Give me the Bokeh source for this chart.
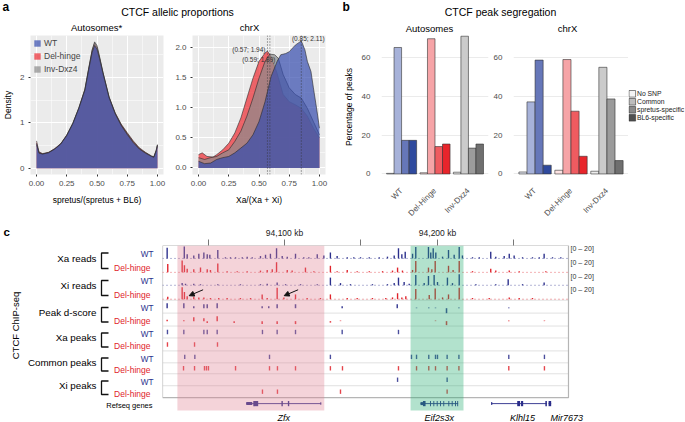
import math
from bokeh.plotting import figure
from bokeh.models import (Range1d, FixedTicker, Legend, LegendItem, ColumnDataSource,
                          Arrow, NormalHead, NumeralTickFormatter, Span)
from bokeh.layouts import column, row
from bokeh.embed import file_html
from bokeh.resources import INLINE
from bokeh.core.properties import value

FONT = "Liberation Sans"

# ------------------------------------------------------------------ panel a data
series_names = ["WT", "Del-hinge", "Inv-Dxz4"]
auto_x   = [0.00, 0.02, 0.05, 0.10, 0.15, 0.20, 0.25, 0.30, 0.35, 0.40, 0.43, 0.46, 0.48, 0.50,
            0.52, 0.55, 0.60, 0.65, 0.70, 0.75, 0.80, 0.85, 0.90, 0.95, 0.97, 0.99, 1.00]
auto_wt  = [0.55, 0.33, 0.31, 0.34, 0.42, 0.53, 0.72, 0.98, 1.32, 1.72, 2.15, 2.55, 2.70, 2.62,
            2.42, 2.08, 1.55, 1.20, 0.94, 0.74, 0.56, 0.42, 0.33, 0.26, 0.24, 0.38, 0.50]
auto_del = [0.60, 0.36, 0.32, 0.35, 0.43, 0.54, 0.73, 0.99, 1.33, 1.74, 2.18, 2.60, 2.75, 2.66,
            2.45, 2.10, 1.57, 1.22, 0.97, 0.78, 0.60, 0.45, 0.35, 0.27, 0.25, 0.40, 0.52]
auto_inv = [0.52, 0.34, 0.31, 0.34, 0.42, 0.53, 0.72, 0.98, 1.32, 1.73, 2.17, 2.60, 2.78, 2.70,
            2.47, 2.10, 1.56, 1.21, 0.95, 0.76, 0.58, 0.43, 0.34, 0.26, 0.24, 0.39, 0.51]

chrx_wt_x  = [0.00, 0.05, 0.10, 0.15, 0.20, 0.25, 0.30, 0.35, 0.40, 0.45, 0.50, 0.55, 0.60, 0.65,
              0.68, 0.72, 0.75, 0.80, 0.85, 0.88, 0.90, 0.93, 0.95, 0.98, 1.00]
chrx_wt_y  = [0.11, 0.07, 0.08, 0.14, 0.17, 0.19, 0.25, 0.33, 0.41, 0.55, 0.77, 1.10, 1.52, 1.77,
              1.88, 1.90, 1.93, 2.04, 2.11, 1.96, 1.77, 1.60, 1.33, 0.94, 0.66]
chrx_del_x = [0.00, 0.03, 0.07, 0.12, 0.15, 0.20, 0.25, 0.30, 0.35, 0.40, 0.45, 0.50, 0.55, 0.57,
              0.60, 0.65, 0.70, 0.75, 0.80, 0.85, 0.90, 0.95, 1.00]
chrx_del_y = [0.22, 0.25, 0.19, 0.18, 0.22, 0.30, 0.41, 0.58, 0.83, 1.16, 1.49, 1.77, 1.91, 1.94,
              1.85, 1.57, 1.22, 1.10, 1.05, 0.99, 0.86, 0.66, 0.50]
chrx_inv_x = [0.00, 0.05, 0.10, 0.15, 0.20, 0.25, 0.30, 0.35, 0.40, 0.45, 0.50, 0.55, 0.59, 0.63,
              0.66, 0.70, 0.75, 0.80, 0.85, 0.90, 0.95, 1.00]
chrx_inv_y = [0.17, 0.14, 0.17, 0.19, 0.25, 0.30, 0.44, 0.61, 0.86, 1.16, 1.49, 1.77, 1.89, 1.88,
              1.82, 1.55, 1.33, 1.22, 1.16, 0.99, 0.77, 0.55]

mode_x = [0.85, 0.57, 0.59]
mode_y = [2.11, 1.94, 1.89]

dens_x_ticks = [0.0, 0.25, 0.5, 0.75, 1.0]
dens_x_minor = [0.125, 0.375, 0.625, 0.875]
auto_y_ticks = [0, 1, 2]
auto_y_minor = [0.5, 1.5, 2.5]
chrx_y_ticks = [0.0, 0.5, 1.0, 1.5, 2.0]
chrx_y_minor = [0.25, 0.75, 1.25, 1.75]

dens_fill = {"WT": "#344cae", "Del-hinge": "#ec2a30", "Inv-Dxz4": "#8b8b8b"}

# ------------------------------------------------------------------ panel b data
groups = ["WT", "Del-Hinge", "Inv-Dxz4"]
snp_classes = ["No SNP", "Common", "spretus-specific", "BL6-specific"]
auto_pct_wt  = [0.3, 65.1, 17.3, 17.3]
auto_pct_del = [0.6, 69.6, 14.1, 15.4]
auto_pct_inv = [0.9, 70.9, 13.3, 15.4]
chrx_pct_wt  = [1.0, 37.1, 58.6, 4.5]
chrx_pct_del = [1.9, 58.9, 32.3, 9.1]
chrx_pct_inv = [1.4, 54.9, 38.6, 6.9]
bar_y_ticks = [0, 20, 40, 60]
bar_colors = {
    "WT":        ["#e6e9f3", "#a7b2d9", "#6677b9", "#2f4a9e"],
    "Del-Hinge": ["#fde3e3", "#f6a4a7", "#ef5b60", "#e8252b"],
    "Inv-Dxz4":  ["#eeeeee", "#cbcbcb", "#9b9b9b", "#6f6f6f"],
}
legend_grays = ["#f4f4f4", "#bdbdbd", "#8a8a8a", "#505050"]

# ------------------------------------------------------------------ panel c data (kb)
view_start, view_end = 94020.26, 94285.62
canvas_end = 94362.1          # right edge of the page, in kb, for the "[0 - 20]" labels
axis_ticks_kb = [94050, 94100, 94150, 94200, 94250]
axis_tick_labels = {94100: "94,100 kb", 94200: "94,200 kb"}
highlight_start = [94030.0, 94182.4]
highlight_end = [94126.0, 94217.0]
highlight_color = ["#e08192", "#23ac70"]

xa_wt_pos = [94023.3, 94034.5, 94036.4, 94040.7, 94044.0, 94047.3, 94049.5, 94051.2, 94056.4, 94061.4,
             94064.7, 94068.0, 94072.4, 94075.6, 94078.9, 94084.3, 94087.6, 94090.8, 94094.8, 94098.5,
             94101.8, 94107.2, 94112.6, 94115.9, 94121.4, 94125.7, 94130.0, 94134.4, 94141.0, 94145.3,
             94149.7, 94155.4, 94161.9, 94167.3, 94171.7, 94174.5, 94176.7, 94178.9, 94183.7, 94185.8,
             94194.1, 94195.6, 94197.2, 94198.9, 94203.3, 94207.2, 94210.9, 94214.2, 94216.3, 94222.9,
             94227.3, 94234.8, 94238.1, 94243.6, 94246.9, 94250.1, 94255.6, 94262.1, 94266.5, 94269.7,
             94275.2, 94280.6]
xa_wt_h = [18, 20, 7, 5, 8, 10, 7, 6, 14, 2, 2, 2, 2, 3, 2, 4, 6, 8, 17, 4, 3, 8, 2, 2, 7, 5, 10, 4,
           2, 2, 2, 2, 2, 3, 5, 17, 7, 11, 8, 19, 19, 10, 17, 10, 3, 14, 6, 19, 5, 2, 2, 11, 3, 4, 8,
           5, 2, 2, 2, 8, 2, 2]
xa_del_pos = [94023.7, 94033.1, 94034.6, 94036.4, 94040.7, 94045.1, 94049.5, 94051.6, 94056.4, 94062.5,
              94069.1, 94075.6, 94084.3, 94088.7, 94092.0, 94094.8, 94101.8, 94105.0, 94113.7, 94119.2,
              94130.0, 94134.4, 94141.0, 94147.5, 94155.4, 94164.1, 94170.6, 94173.9, 94177.1, 94183.7,
              94185.8, 94194.1, 94196.3, 94198.5, 94207.2, 94210.2, 94214.2, 94222.9, 94234.8, 94238.1,
              94246.9, 94253.4, 94270.8]
xa_del_h = [14, 20, 12, 6, 5, 8, 5, 4, 15, 2, 2, 2, 3, 4, 5, 17, 4, 3, 8, 2, 11, 2, 4, 2, 2, 2, 3, 8,
            3, 4, 19, 8, 5, 19, 11, 4, 19, 2, 6, 3, 3, 2, 2]
xi_wt_pos = [94033.1, 94035.3, 94040.7, 94045.1, 94056.4, 94071.2, 94084.3, 94088.7, 94095.2, 94100.7,
             94110.5, 94121.4, 94130.0, 94136.6, 94143.1, 94157.5, 94167.3, 94171.7, 94174.5, 94178.2,
             94181.5, 94185.8, 94191.3, 94194.1, 94197.8, 94200.0, 94206.5, 94209.8, 94214.2, 94225.1,
             94238.1, 94246.2, 94255.6, 94269.7]
xi_wt_h = [4, 3, 3, 2, 2, 2, 2, 3, 5, 2, 2, 2, 14, 4, 2, 2, 2, 4, 14, 6, 3, 19, 4, 17, 19, 6, 14, 4,
           20, 2, 2, 11, 2, 5]
xi_del_pos = [94023.7, 94033.1, 94034.6, 94036.4, 94040.7, 94044.0, 94047.3, 94051.6, 94057.0, 94062.5,
              94071.2, 94077.8, 94085.4, 94088.7, 94095.2, 94099.6, 94107.2, 94114.8, 94123.5, 94130.0,
              94141.0, 94147.5, 94157.5, 94166.2, 94170.6, 94173.9, 94176.7, 94179.3, 94185.8, 94194.6,
              94198.5, 94203.3, 94207.2, 94214.2, 94222.9, 94233.8, 94246.9, 94253.4, 94262.1]
xi_del_h = [4, 20, 12, 5, 4, 3, 3, 2, 2, 2, 2, 2, 8, 2, 19, 3, 8, 2, 2, 8, 2, 2, 2, 2, 3, 10, 3, 5,
            17, 7, 18, 3, 8, 19, 2, 2, 3, 2, 2]
arrow_targets = [94033.1, 94095.2]

dscore_wt_pos = [94023.3, 94034.2, 94040.7, 94047.3, 94049.5, 94056.0, 94085.4, 94089.7, 94095.2,
                 94107.2, 94137.7, 94173.7, 94186.3, 94194.3, 94198.7, 94205.9, 94214.0, 94246.6]
dscore_wt_val = [5, 5, 2, 4, 4, 5, 2, 2, 4, 4, 2, 4, 0.6, 0.6, 0.6, -5, 0.6, 0.6]
dscore_del_pos = [94023.3, 94034.2, 94040.7, 94047.3, 94049.5, 94056.0, 94067.1, 94085.4, 94095.2,
                  94107.2, 94130.0, 94136.6, 94198.7, 94205.9, 94246.6, 94269.9]
dscore_del_val = [1.5, 1.0, 4, 3, -2, 5, -2, -3, -3, -3, -1.5, 0.6, 0.6, -4, 0.6, 0.6]

xa_peaks_wt = [94023.5, 94034.2, 94047.3, 94049.5, 94056.0, 94085.6, 94095.2, 94107.2, 94137.7, 94174.5]
xa_peaks_del = [94023.5, 94041.2, 94056.2]
common_peaks_wt = [94034.8, 94041.4, 94090.2, 94130.0, 94183.0, 94186.3, 94194.3, 94198.7, 94200.0,
                   94206.3, 94214.0, 94246.6, 94269.9]
common_peaks_del = [94034.0, 94041.2, 94047.7, 94049.0, 94050.3, 94068.0, 94090.2, 94095.4, 94107.2,
                    94130.0, 94137.9, 94174.5, 94186.3, 94194.3, 94198.7, 94206.3, 94214.0, 94246.6, 94269.9]
xi_peaks_wt = [94173.9, 94206.3]
xi_peaks_del = [94085.6, 94095.4, 94136.6, 94206.3]

gene_names = ["Zfx", "Eif2s3x", "Klhl15", "Mir7673"]
gene_start = [94075.0, 94188.9, 94235.1, 94272.6]
gene_end = [94124.0, 94213.5, 94271.5, 94274.3]
gene_label_x = [94099.5, 94201.2, 94255.5, 94284.5]
exon_start = [94075.0, 94079.6, 94098.0, 94102.2, 94123.5,
              94188.9, 94190.5, 94195.1, 94197.3, 94199.5, 94201.7, 94203.8, 94207.1, 94209.3, 94211.5, 94212.9,
              94235.1, 94252.1, 94254.6, 94270.5, 94272.6]
exon_end = [94078.9, 94082.8, 94098.9, 94103.1, 94124.0,
            94190.5, 94192.2, 94195.7, 94197.9, 94200.1, 94202.3, 94204.4, 94207.7, 94209.9, 94212.1, 94213.5,
            94235.8, 94254.0, 94256.0, 94271.5, 94274.3]
exon_utr = [1, 0, 0, 0, 1,
            1, 0, 0, 0, 0, 0, 0, 0, 0, 0, 0,
            1, 0, 0, 0, 0]

# layout of browser rows (pixel rows of the page, top of each row)
row_tops = [244, 258, 272, 285, 299, 312, 325, 337, 350, 362, 373, 385]
box_bottom = 397
gene_y = 403
gene_label_y = 417
row_groups = ["Xa reads", "Xi reads", "Peak d-score", "Xa peaks", "Common peaks", "Xi peaks"]

WT_COL = "#2b2f8c"
DEL_COL = "#e0232b"


# ------------------------------------------------------------------ helpers
def txt(p, x, y, s, size, align="center", baseline="middle", style="normal",
        color="#000000", angle=0.0, x_offset=0, y_offset=0):
    p.text(x=[x], y=[y], text=[s], text_font=value(FONT), text_font_size=value(size),
           text_align=align, text_baseline=baseline, text_font_style=style,
           text_color=color, angle=angle, x_offset=x_offset, y_offset=y_offset)


def new_fig(w, h, xr, yr, bl=0, br=0, bt=0, bb=0, xloc=None, yloc=None):
    p = figure(width=w, height=h, x_range=xr, y_range=yr, output_backend="svg",
               toolbar_location=None, x_axis_location=xloc, y_axis_location=yloc,
               min_border_left=bl, min_border_right=br, min_border_top=bt, min_border_bottom=bb)
    p.frame_align = False
    p.outline_line_color = None
    return p


def blank_fig(w, h, xr, yr):
    p = new_fig(w, h, xr, yr)
    p.grid.visible = False
    return p


def style_axis(ax, size="8px", color="#4d4d4d"):
    ax.axis_line_color = None
    ax.minor_tick_line_color = None
    ax.major_label_text_font = FONT
    ax.major_label_text_font_size = size
    ax.major_label_text_color = color
    ax.axis_label_text_font = FONT
    ax.axis_label_text_font_size = "8.5px"
    ax.axis_label_text_font_style = "normal"
    ax.axis_label_text_color = "#000000"


# ------------------------------------------------------------------ header (0..685 x 0..33)
hdr = blank_fig(685, 33, Range1d(0, 685), Range1d(33, 0))
txt(hdr, 2, 6.5, "a", "12px", align="left", style="bold")
txt(hdr, 177, 11, "CTCF allelic proportions", "10.5px")
txt(hdr, 342, 6.5, "b", "12px", align="left", style="bold")
txt(hdr, 500, 11, "CTCF peak segregation", "10.5px")
txt(hdr, 96, 26.5, "Autosomes*", "9.5px")
txt(hdr, 249, 26.5, "chrX", "9.5px")
txt(hdr, 429, 27.5, "Autosomes", "9.5px")
txt(hdr, 567, 27.5, "chrX", "9.5px")

ROW_H = 191


# ------------------------------------------------------------------ panel a
def density_fig(w, bl, br, yr, yticks, yminor, yfmt, xs_list, ys_list, xlabel, ylabel):
    p = new_fig(w, ROW_H, Range1d(-0.05, 1.05), Range1d(*yr), bl=bl, br=br, bt=2, bb=50,
                xloc="below", yloc="left")
    p.background_fill_color = "#ebebeb"
    p.xaxis.ticker = FixedTicker(ticks=dens_x_ticks, minor_ticks=dens_x_minor)
    p.yaxis.ticker = FixedTicker(ticks=yticks, minor_ticks=yminor)
    p.xaxis.formatter = NumeralTickFormatter(format="0.00")
    p.yaxis.formatter = NumeralTickFormatter(format=yfmt)
    for g in (p.xgrid, p.ygrid):
        g.grid_line_color = "white"
        g.grid_line_width = 1.1
        g.minor_grid_line_color = "white"
        g.minor_grid_line_width = 0.5
    for ax in p.axis:
        style_axis(ax)
        ax.major_tick_line_color = "#333333"
        ax.major_tick_out = 2
        ax.major_tick_in = 0
        ax.major_label_standoff = 2
        ax.axis_label_standoff = 6
    p.xaxis.axis_label = xlabel
    if ylabel:
        p.yaxis.axis_label = ylabel
        p.yaxis.axis_label_standoff = 4
    rends = {}
    for name in ["Del-hinge", "Inv-Dxz4", "WT"]:
        i = series_names.index(name)
        r = p.varea(x=xs_list[i], y1=0, y2=ys_list[i], fill_color=dens_fill[name], fill_alpha=0.7)
        p.line(x=xs_list[i], y=ys_list[i], line_color="#2a2a2a", line_width=0.6)
        rends[name] = r
    return p, rends


fa1, rends1 = density_fig(172, 25, 9, (-0.14, 2.92), auto_y_ticks, auto_y_minor, "0",
                          [auto_x, auto_x, auto_x], [auto_wt, auto_del, auto_inv],
                          "spretus/(spretus + BL6)", "Density")
leg_a = Legend(items=[LegendItem(label=n, renderers=[rends1[n]]) for n in series_names],
               location="top_left", label_text_font=FONT, label_text_font_size="8.5px",
               glyph_width=8, glyph_height=8, label_height=8, spacing=3, label_standoff=3,
               padding=1, margin=2, background_fill_alpha=0, border_line_alpha=0)
fa1.add_layout(leg_a)

fa2, rends2 = density_fig(168, 15, 15, (-0.11, 2.2), chrx_y_ticks, chrx_y_minor, "0.0",
                          [chrx_wt_x, chrx_del_x, chrx_inv_x], [chrx_wt_y, chrx_del_y, chrx_inv_y],
                          "Xa/(Xa + Xi)", None)
for mx in mode_x:
    fa2.add_layout(Span(location=mx, dimension="height", line_color="#333333",
                        line_dash="1 2", line_width=0.8))
mode_text = ["(%.2f; %.2f)" % (mx, my) for mx, my in zip(mode_x, mode_y)]
label_align = ["center", "right", "center"]
label_dx = [7, -2, -11]
label_dy = [-2, -2, 5]
for k in range(3):
    txt(fa2, mode_x[k], mode_y[k], mode_text[k], "6.5px", align=label_align[k],
        color="#333333", x_offset=label_dx[k], y_offset=label_dy[k])


# ------------------------------------------------------------------ panel b
def bar_fig(w, bl, br, pct_lists, ylabel):
    p = new_fig(w, ROW_H, Range1d(0.4, 3.6), Range1d(-3.37, 72.3), bl=bl, br=br, bt=0, bb=34,
                xloc="below", yloc="left")
    p.xgrid.visible = False
    p.ygrid.grid_line_color = "#e6e6e6"
    p.ygrid.grid_line_width = 0.8
    p.yaxis.ticker = FixedTicker(ticks=bar_y_ticks)
    p.xaxis.ticker = FixedTicker(ticks=[1, 2, 3])
    p.xaxis.major_label_overrides = {i + 1: g for i, g in enumerate(groups)}
    p.xaxis.major_label_orientation = math.pi / 4
    for ax in p.axis:
        style_axis(ax)
        ax.major_tick_line_color = None
        ax.major_label_standoff = 3
    p.yaxis.major_label_standoff = 5
    if ylabel:
        p.yaxis.axis_label = ylabel
        p.yaxis.axis_label_standoff = 5
    dodge = 0.225
    xs, tops, cols = [], [], []
    for gi, g in enumerate(groups):
        for si in range(len(snp_classes)):
            xs.append(gi + 1 + (si - 1.5) * dodge)
            tops.append(pct_lists[gi][si])
            cols.append(bar_colors[g][si])
    src = ColumnDataSource(dict(x=xs, top=tops, color=cols))
    p.vbar(x="x", top="top", bottom=0, width=dodge, fill_color="color", line_color="#333333",
           line_width=0.6, source=src)
    return p


fb1 = bar_fig(150, 33, 2, [auto_pct_wt, auto_pct_del, auto_pct_inv], "Percentage of peaks")
fb2 = bar_fig(138, 23, 0, [chrx_pct_wt, chrx_pct_del, chrx_pct_inv], None)

# legend of panel b in its own small figure (pixel coordinates from the row top)
fb_leg = blank_fig(57, ROW_H, Range1d(0, 57), Range1d(ROW_H, 0))
leg_key_y0, leg_step, leg_key = 60.3, 8.0, 6.6
key_y = [leg_key_y0 + i * leg_step for i in range(len(snp_classes))]
fb_leg.quad(left=[0.5] * 4, right=[0.5 + leg_key] * 4, top=[y - leg_key / 2 for y in key_y],
            bottom=[y + leg_key / 2 for y in key_y], fill_color=legend_grays,
            line_color="#333333", line_width=0.6)
for lab, y in zip(snp_classes, key_y):
    txt(fb_leg, 8.5, y, lab, "6.8px", align="left", color="#1a1a1a")


# ------------------------------------------------------------------ panel c (y 224..422)
FC_H = 198
fc_left = blank_fig(162, FC_H, Range1d(0, 162), Range1d(422, 224))

fc = new_fig(523, FC_H, Range1d(view_start, canvas_end), Range1d(422, 244), bt=20, xloc="above")
fc.grid.visible = False
fc.xaxis.ticker = FixedTicker(ticks=axis_ticks_kb)
fc.xaxis.major_label_overrides = {t: axis_tick_labels.get(t, "") for t in axis_ticks_kb}
for ax in fc.axis:
    style_axis(ax, size="8.5px", color="#222222")
    ax.major_tick_line_color = "#777777"
    ax.major_tick_out = 6
    ax.major_tick_in = 0
    ax.major_label_standoff = 2

row_h = [(row_tops + [box_bottom])[i + 1] - row_tops[i] for i in range(len(row_tops))]

# separators and box
sep_y = row_tops[4:]
fc.segment(x0=[view_start] * len(sep_y), x1=[view_end] * len(sep_y), y0=sep_y, y1=sep_y,
           line_color="#d9d9d9", line_width=0.8)
fc.quad(left=[view_start], right=[view_end], top=[row_tops[0]], bottom=[box_bottom],
        fill_color=None, line_color="#b5b5b5", line_width=1.2)

# signal tracks
signal_tracks = [(xa_wt_pos, xa_wt_h, WT_COL), (xa_del_pos, xa_del_h, DEL_COL),
                 (xi_wt_pos, xi_wt_h, WT_COL), (xi_del_pos, xi_del_h, DEL_COL)]
for ti, (pos, hts, col) in enumerate(signal_tracks):
    base = row_tops[ti] + row_h[ti] - 1
    scale = (row_h[ti] - 2) / 20.0
    fc.line(x=[view_start, view_end], y=[base, base], line_color=col, line_width=1,
            line_dash="1 3", line_alpha=0.7)
    fc.vbar(x=pos, width=0.9, bottom=base, top=[base - h * scale for h in hts],
            fill_color=col, line_color=None)
    txt(fc, view_end + 1.3, row_tops[ti] + 3.5, "[0 \u2013 20]", "7px", align="left", color="#333333")

# d-score tracks
for ti, (pos, vals, col) in enumerate([(dscore_wt_pos, dscore_wt_val, WT_COL),
                                       (dscore_del_pos, dscore_del_val, DEL_COL)]):
    r = 4 + ti
    base = row_tops[r] + row_h[r] * 0.62
    fc.vbar(x=pos, width=1.0, bottom=[base - min(v, 0) for v in vals],
            top=[base - max(v, 0) for v in vals], fill_color=col, line_color=None, fill_alpha=0.9)

# peak tracks
peak_tracks = [(xa_peaks_wt, WT_COL), (xa_peaks_del, DEL_COL), (common_peaks_wt, WT_COL),
               (common_peaks_del, DEL_COL), (xi_peaks_wt, WT_COL), (xi_peaks_del, DEL_COL)]
for ti, (pos, col) in enumerate(peak_tracks):
    r = 6 + ti
    mid = row_tops[r] + row_h[r] / 2.0
    fc.vbar(x=pos, width=0.9, bottom=mid + 2.2, top=mid - 2.2, fill_color=col, line_color=None,
            fill_alpha=0.85)

# genes
GENE_COL = "#2a2d8a"
fc.segment(x0=gene_start, x1=gene_end, y0=[gene_y] * len(gene_start), y1=[gene_y] * len(gene_start),
           line_color=GENE_COL, line_width=0.9)
exon_half = [1.5 if u else 2.6 for u in exon_utr]
fc.quad(left=exon_start, right=exon_end, top=[gene_y - h for h in exon_half],
        bottom=[gene_y + h for h in exon_half], fill_color=GENE_COL, line_color=None)
for name, gx in zip(gene_names, gene_label_x):
    txt(fc, gx, gene_label_y, name, "9px", style="italic")

# highlighted regions
fc.quad(left=highlight_start, right=highlight_end, top=[row_tops[0]] * 2, bottom=[410, 410],
        fill_color=highlight_color, fill_alpha=0.35, line_color=None)

# arrows in Xi del-hinge track
xi_del_base = row_tops[3] + row_h[3] - 1
for t in arrow_targets:
    fc.add_layout(Arrow(end=NormalHead(size=5, fill_color="#111111", line_color="#111111"),
                        x_start=t + 13.7, y_start=xi_del_base - 9.5, x_end=t + 4.6,
                        y_end=xi_del_base - 3.5, line_color="#111111", line_width=1))

# left labels
txt(fc_left, 3, 231, "c", "11.5px", align="left", style="bold")
txt(fc_left, 15, 325, "CTCF ChIP-seq", "9.5px", angle=math.pi / 2)
for gi, name in enumerate(row_groups):
    r1, r2 = 2 * gi, 2 * gi + 1
    c1 = row_tops[r1] + row_h[r1] / 2.0
    c2 = row_tops[r2] + row_h[r2] / 2.0
    txt(fc_left, 96, (c1 + c2) / 2.0, name, "9.8px", align="right")
    fc_left.line(x=[108, 101, 101, 108], y=[c1 + 1.5, c1 + 1.5, c2 + 3, c2 + 3],
                 line_color="#111111", line_width=1.3)
    txt(fc_left, 153, c1 + 2.5, "WT", "8.2px", align="right", color=WT_COL)
    txt(fc_left, 150, c2 + 2, "Del-hinge", "8.5px", align="right", color=DEL_COL)
txt(fc_left, 152, gene_y + 2, "Refseq genes", "7.5px", align="right")

layout = column(hdr, row(fa1, fa2, fb1, fb2, fb_leg), row(fc_left, fc))
open("out.html", "w").write(file_html(layout, INLINE))
